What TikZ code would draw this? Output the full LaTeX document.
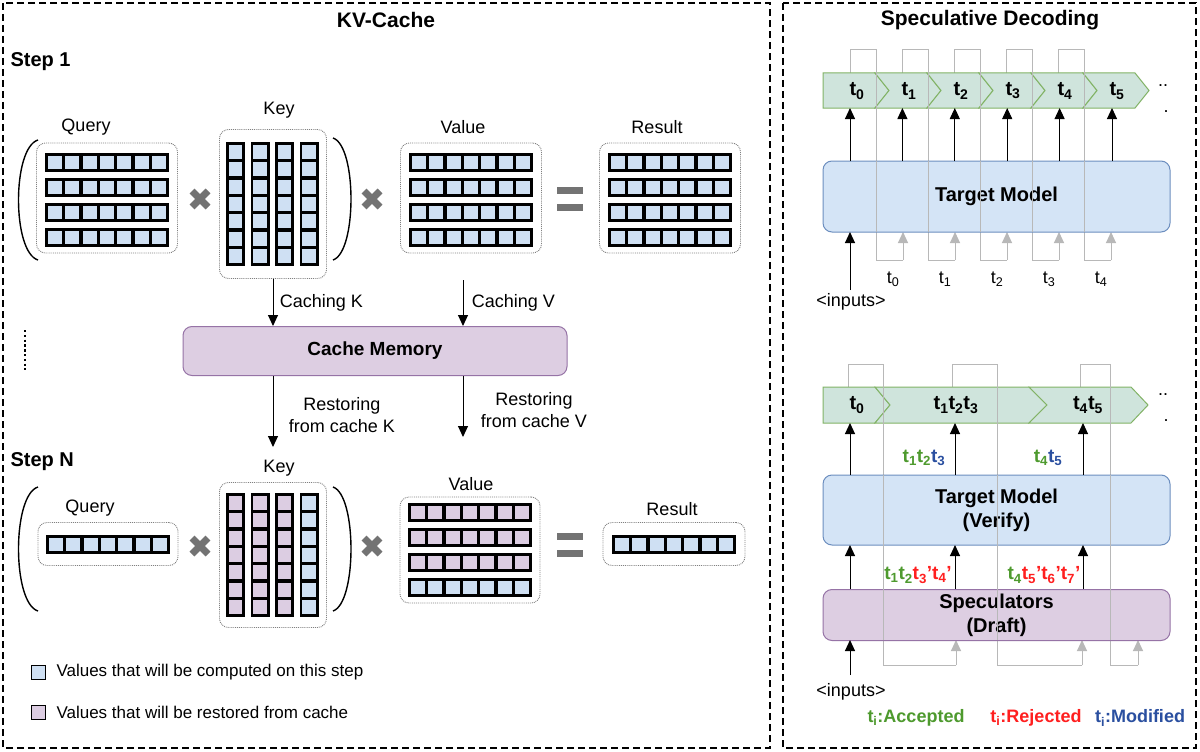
\documentclass[tikz,border=0pt]{standalone}
\usepackage{fontspec}
\setmainfont{Liberation Sans}
\usetikzlibrary{arrows.meta}
\definecolor{cblue}{HTML}{CFE0F3}
\definecolor{cpurp}{HTML}{DCCDE2}
\definecolor{bfill}{HTML}{D4E4F6}
\definecolor{bdraw}{HTML}{6C8EBF}
\definecolor{pfill}{HTML}{DDCEE2}
\definecolor{pdraw}{HTML}{9673A6}
\definecolor{gfill}{HTML}{CFE4DC}
\definecolor{gdraw}{HTML}{82B366}
\definecolor{accg}{HTML}{4E9A2E}
\definecolor{rejr}{HTML}{FF1F1F}
\definecolor{modb}{HTML}{2A4FA0}
\newcommand\tk[1]{t\textsubscript{#1}}
\newcommand\mrow[3]{% x y fill
  \fill[black] (#1,#2) rectangle ++(124,19);
  \foreach \i in {0,...,6} {\fill[#3] ({#1+3+17.3*\i},{#2+2.8}) rectangle ++(14,13.4);}}
\newcommand\mcol[3]{% x y fill
  \fill[black] (#1,#2) rectangle ++(19,124);
  \foreach \i in {0,...,6} {\fill[#3] ({#1+2.8},{#2+3+17.3*\i}) rectangle ++(13.4,14);}}
\begin{document}
\begin{tikzpicture}[x=1pt,y=-1pt,
  every node/.style={font=\fontsize{18}{21}\selectfont},
  panel/.style={draw,line width=2pt,dash pattern=on 7pt off 4pt},
  dotbox/.style={draw=gray,densely dotted,rounded corners=9pt,line width=0.9pt,inner sep=0},
  ttl/.style={font=\fontsize{21}{24}\selectfont\bfseries},
  blk/.style={font=\fontsize{20}{23}\selectfont\bfseries},
  arr/.style={-{Triangle[length=11pt,width=10pt]},line width=1pt},
  garr/.style={-{Triangle[length=11pt,width=10pt]},line width=1pt,draw=black!28},
  gline/.style={line width=1pt,draw=black!28},
  bbox/.style={draw=bdraw,fill=bfill,rounded corners=9pt,line width=1pt,inner sep=0},
  pbox/.style={draw=pdraw,fill=pfill,rounded corners=9pt,line width=1pt,inner sep=0},
  chev/.style={draw=gdraw,fill=gfill,line width=1pt},
  times/.style={line width=7pt,draw=black!55},
]
\useasboundingbox (0,0) rectangle (1200,752);
\fill[white] (0,0) rectangle (1200,752);
\draw[panel] (3,3) rectangle (770,748);
\draw[panel] (783,3) rectangle (1196,748);
\node[ttl] (t1) at (386,20) {KV-Cache};
\node[ttl] (t2) at (990,20) {Speculative Decoding};

% ---- Step 1
\node[blk,anchor=west] (s1) at (7,62) {Step 1};
\node (ql) at (86,127) {Query};
\node[dotbox,minimum width=141pt,minimum height=110pt] (qb) at (107,198) {};
\foreach \r in {0,1,2,3} {\mrow{45}{153+25*\r}{cblue}}
\draw[line width=1.4pt] (38,140) .. controls (12,148) and (12,252) .. (38,260);
\draw[times] (192,191)--(208,207); \draw[times] (192,207)--(208,191);
\node (kl) at (279,110) {Key};
\node[dotbox,minimum width=107pt,minimum height=149pt] (kb) at (273,204) {};
\foreach \c in {0,1,2,3} {\mcol{226+24.5*\c}{142}{cblue}}
\draw[line width=1.4pt] (333,138) .. controls (357,146) and (357,252) .. (333,260);
\draw[times] (364,191)--(380,207); \draw[times] (364,207)--(380,191);
\node (vl) at (463,127) {Value};
\node[dotbox,minimum width=141pt,minimum height=110pt] (vb) at (471,198) {};
\foreach \r in {0,1,2,3} {\mrow{409}{153+25*\r}{cblue}}
\fill[black!55] (557,187) rectangle ++(26,7); \fill[black!55] (557,204) rectangle ++(26,7);
\node (rl) at (657,127) {Result};
\node[dotbox,minimum width=141pt,minimum height=110pt] (rb) at (670,198) {};
\foreach \r in {0,1,2,3} {\mrow{608}{153+25*\r}{cblue}}

% ---- cache memory
\node[pbox,minimum width=384pt,minimum height=49pt,font=\fontsize{19}{22}\selectfont\bfseries] (cm) at (375,351) {Cache Memory};
\draw[arr] (kb.south -| 273,0) -- (cm.north -| 273,0) node[midway,right=3pt] {Caching K};
\draw[arr] (463,280) coordinate (cv) -- (cm.north -| 463,0) node[midway,right=5pt] {Caching V};
\draw[line width=2.4pt,dash pattern=on 2.4pt off 2.4pt] (25,330) -- (25,370);
\coordinate (rk) at (273,447);
\coordinate (rv) at (463,437);
\draw[arr] (cm.south -| 273,0) -- (rk);
\draw[arr] (cm.south -| 463,0) -- (rv);
\node[align=center,font=\fontsize{18}{22}\selectfont] (rkl) at (342,415) {Restoring\\from cache K};
\node[align=center,font=\fontsize{18}{22}\selectfont] (rvl) at (534,410) {Restoring\\from cache V};

% ---- Step N
\node[blk,anchor=west] (sn) at (7,462) {Step N};
\node (kl2) at (279,468) {Key};
\node[dotbox,minimum width=107pt,minimum height=145pt] (kb2) at (273,555) {};
\foreach \c in {0,1,2} {\mcol{226+24.5*\c}{493}{cpurp}}
\mcol{299.5}{493}{cblue}
\node (ql2) at (90,508) {Query};
\node[dotbox,minimum width=140pt,minimum height=43pt] (qb2) at (108,544) {};
\mrow{46}{535}{cblue}
\draw[line width=1.4pt] (38,487) .. controls (12,495) and (12,603) .. (38,611);
\draw[line width=1.4pt] (333,487) .. controls (357,495) and (357,603) .. (333,611);
\draw[times] (192,538)--(208,554); \draw[times] (192,554)--(208,538);
\draw[times] (364,538)--(380,554); \draw[times] (364,554)--(380,538);
\node (vl2) at (471,484) {Value};
\node[dotbox,minimum width=140pt,minimum height=106pt] (vb2) at (470,550) {};
\foreach \r in {0,1,2} {\mrow{408}{503+25*\r}{cpurp}}
\mrow{408}{578}{cblue}
\fill[black!55] (557,533) rectangle ++(26,7); \fill[black!55] (557,550) rectangle ++(26,7);
\node (rl2) at (672,509) {Result};
\node[dotbox,minimum width=142pt,minimum height=43pt] (rb2) at (674,544) {};
\mrow{612}{535}{cblue}

% ---- legend
\node[draw=black,fill=cblue,minimum size=14pt,inner sep=0,line width=0.8pt] (lg1) at (38,672) {};
\node[anchor=west,font=\fontsize{17}{20}\selectfont] (lt1) at (53,672) {Values that will be computed on this step};
\node[draw=black,fill=cpurp,minimum size=14pt,inner sep=0,line width=0.8pt] (lg2) at (38,712) {};
\node[anchor=west,font=\fontsize{17}{20}\selectfont] (lt2) at (53,712) {Values that will be restored from cache};

% ---- Right top
\foreach \k in {0,...,4} {
  \draw[gline] ({850+52*\k},73) -- ({850+52*\k},50) -- ({876+52*\k},50) -- ({876+52*\k},260) -- ({903+52*\k},260);
  \draw[garr] ({903+52*\k},260) -- ({903+52*\k},232);
  \node at ({893+52*\k},279) {\tk{\k}};
}
\foreach \k in {0,...,5} {
  \pgfmathsetmacro\xk{823+52*\k}
  \ifnum\k=0
    \draw[chev] (\xk,73) -- ({\xk+52},73) -- ({\xk+66},90.5) -- ({\xk+52},108) -- (\xk,108) -- cycle;
  \else
    \draw[chev] (\xk,73) -- ({\xk+52},73) -- ({\xk+66},90.5) -- ({\xk+52},108) -- (\xk,108) -- ({\xk+14},90.5) -- cycle;
  \fi
  \node[blk] (c\k) at ({\xk+34},91) {\tk{\k}};
}
\foreach \k in {0,...,4} {
  \draw[gline] ({876+52*\k},50) -- ({876+52*\k},260);
}
\node[bbox,minimum width=347pt,minimum height=71pt,font=\fontsize{20}{23}\selectfont\bfseries] (tm) at (996.5,196.5) {Target Model};
\foreach \k in {0,...,4} {\draw[gline] ({876+52*\k},161) -- ({876+52*\k},232);}
\foreach \k in {0,...,5} {\draw[arr] ({850+52.4*\k},161) -- ({850+52.4*\k},108);}
\node (in1) at (851,302) {<inputs>};
\draw[arr] (850,290) -- (850,232);
\node (dt1) at (1163,86) {..};
\node (dt2) at (1166,112) {.};

% ---- Right bottom
\draw[gline] (848,387) -- (848,364) -- (883,364) -- (883,665) -- (956,665);
\draw[garr] (956,665) -- (956,640);
\draw[gline] (952,387) -- (952,364) -- (997,364) -- (997,665) -- (1082,665);
\draw[garr] (1082,665) -- (1082,640);
\draw[gline] (1080,387) -- (1080,364) -- (1110,364) -- (1110,665) -- (1138,665);
\draw[garr] (1138,665) -- (1138,640);
\draw[chev] (823,387) -- (875,387) -- (890,405) -- (875,423) -- (823,423) -- cycle;
\draw[chev] (875,387) -- (1029,387) -- (1047,405) -- (1029,423) -- (875,423) -- (890,405) -- cycle;
\draw[chev] (1029,387) -- (1131,387) -- (1148,405) -- (1131,423) -- (1029,423) -- (1047,405) -- cycle;
\node[blk] (b0) at (857,405) {\tk{0}};
\node[blk] (b1) at (956,405) {\tk{1}\tk{2}\tk{3}};
\node[blk] (b2) at (1088,405) {\tk{4}\tk{5}};
\draw[gline] (883,364) -- (883,665);
\draw[gline] (997,364) -- (997,665);
\draw[gline] (1110,364) -- (1110,665);
\node[bbox,minimum width=347pt,minimum height=70pt,align=center,font=\fontsize{20}{24}\selectfont\bfseries] (tv) at (996.5,510) {Target Model\\(Verify)};
\node[pbox,minimum width=347pt,minimum height=51pt,align=center,font=\fontsize{20}{24}\selectfont\bfseries] (sp) at (996.5,615) {Speculators\\(Draft)};
\draw[gline] (883,475) -- (883,640);
\draw[gline] (997,475) -- (997,640);
\draw[gline] (1110,475) -- (1110,640);
\foreach \x in {850,955,1083} {\draw[arr] (\x,475) -- (\x,423); \draw[arr] (\x,589) -- (\x,545);}
\node[font=\fontsize{19}{22}\selectfont\bfseries] (v1) at (924,458) {\textcolor{accg}{\tk{1}\tk{2}}\textcolor{modb}{\tk{3}}};
\node[font=\fontsize{19}{22}\selectfont\bfseries] (v2) at (1048,458) {\textcolor{accg}{\tk{4}}\textcolor{modb}{\tk{5}}};
\node[font=\fontsize{19}{22}\selectfont\bfseries] (d1) at (918,575) {\textcolor{accg}{\tk{1}\tk{2}}\textcolor{rejr}{\tk{3}'\tk{4}'}};
\node[font=\fontsize{19}{22}\selectfont\bfseries] (d2) at (1044,575) {\textcolor{accg}{\tk{4}}\textcolor{rejr}{\tk{5}'\tk{6}'\tk{7}'}};
\node (in2) at (851,692) {<inputs>};
\draw[arr] (850,675) -- (850,640);
\node (dt3) at (1163,395) {..};
\node (dt4) at (1166,421) {.};
\node[font=\fontsize{18}{21}\selectfont\bfseries,text=accg] (la) at (916,718) {\tk{i}:Accepted};
\node[font=\fontsize{18}{21}\selectfont\bfseries,text=rejr] (lr) at (1036,718) {\tk{i}:Rejected};
\node[font=\fontsize{18}{21}\selectfont\bfseries,text=modb] (lm) at (1140,718) {\tk{i}:Modified};
\end{tikzpicture}
\end{document}
